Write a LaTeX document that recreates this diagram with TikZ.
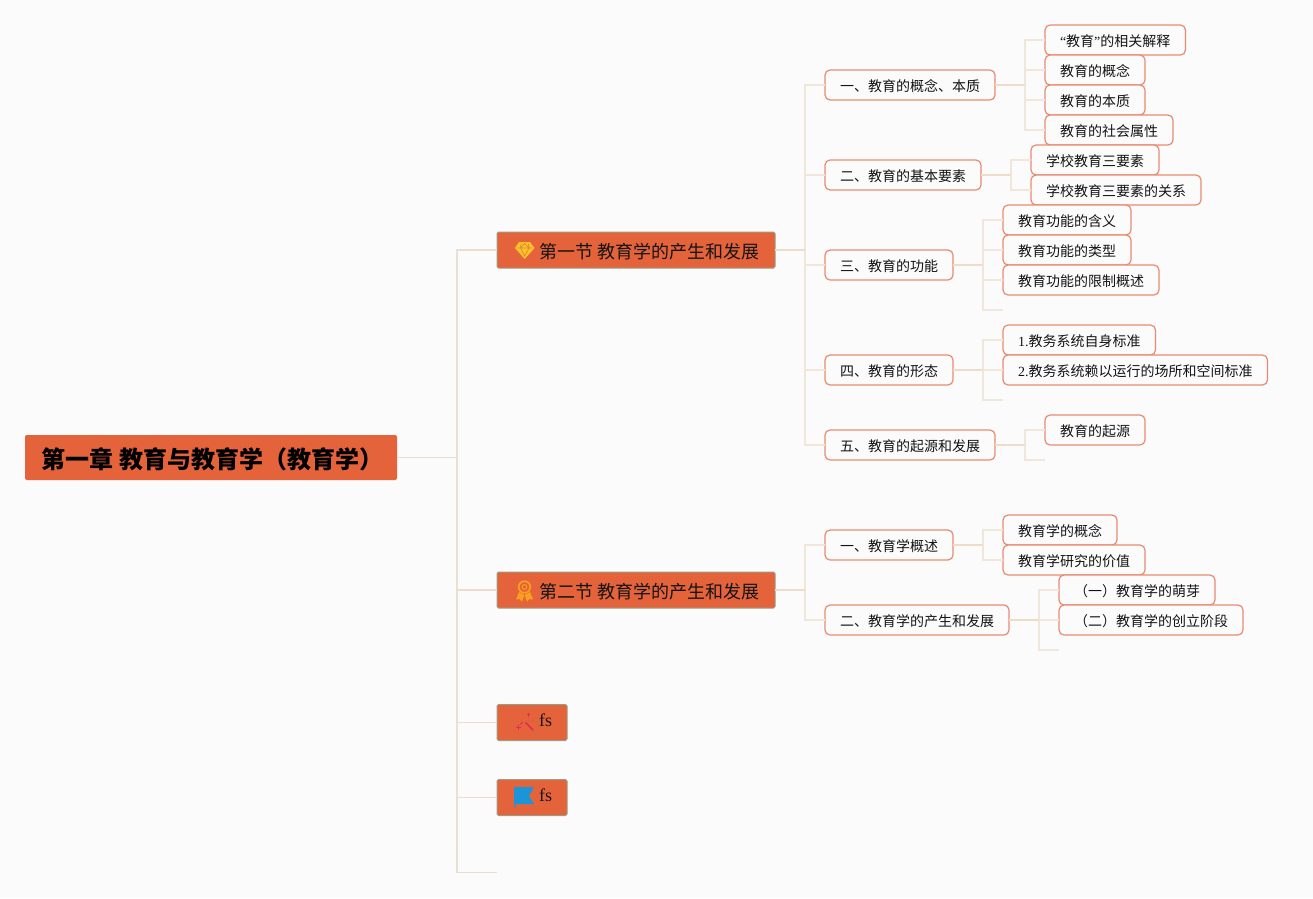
\documentclass[tikz,border=0pt]{standalone}
\usepackage{fontspec}
\setmainfont{Liberation Serif}
\newfontfamily\cjk{Noto Sans CJK SC}
\newfontfamily\lat{Liberation Serif}
\definecolor{bgc}{HTML}{FBFBFB}
\definecolor{rootc}{HTML}{E4633B}
\definecolor{secedge}{HTML}{9C9C84}
\definecolor{leafedge}{HTML}{E98A70}
\definecolor{linkc}{HTML}{F0E7DA}
\definecolor{stemc}{HTML}{EEDCC8}
\definecolor{linkroot}{HTML}{E8E0D0}
\definecolor{inkc}{HTML}{141414}
\definecolor{gemc}{HTML}{FBC42A}
\definecolor{medalc}{HTML}{F9A01E}
\definecolor{wandc}{HTML}{E2295A}
\definecolor{flagc}{HTML}{1A96D8}
\tikzset{
  x=1pt,y=-1pt,
  rootbox/.style={rectangle,rounded corners=2pt,fill=rootc,text=black,inner xsep=16pt,inner ysep=0pt,minimum height=45pt,outer sep=0pt,anchor=west,text height=21.5pt,text depth=.3pt,font=\fontsize{24}{28}\cjk\bfseries},
  secbox/.style={rectangle,rounded corners=1.5pt,fill=rootc,draw=secedge,line width=1pt,text=inkc,inner xsep=15pt,inner ysep=0pt,minimum height=36pt,outer sep=0pt,anchor=west,text height=18pt,text depth=.3pt,font=\fontsize{18}{22}\cjk},
  leafbox/.style={rectangle,rounded corners=5pt,fill=bgc,draw=leafedge,line width=1.2pt,text=inkc,inner xsep=15pt,inner ysep=0pt,minimum height=30pt,outer sep=0pt,anchor=west,text height=13pt,text depth=.4pt,font=\fontsize{14}{17}\cjk},
  link/.style={draw=linkc,line width=1.5pt},
  stem/.style={draw=stemc,line width=1.5pt},
  toplink/.style={draw=linkroot,line width=1.4pt},
  topstem/.style={draw=stemc,line width=1pt},
}
\newcommand{\secpad}{\hspace*{27pt}}
\begin{document}
\begin{tikzpicture}
\useasboundingbox[fill=bgc] (0,0) rectangle (1313,898);
% free ends
\coordinate (rootend) at (497,872.5);
\coordinate (cend) at (1003,310);
\coordinate (dend) at (1003,400);
\coordinate (eend) at (1045,460);
\coordinate (gend) at (1059,650);
% root and sections
\node[rootbox] (root) at (25,457.5) {第一章\hspace{6pt}教育与教育学（教育学）\hspace*{-2pt}};
\node[secbox] (s1) at (497,250) {\secpad 第一节\hspace{5pt}教育学的产生和发展};
\node[secbox] (s2) at (497,590) {\secpad 第二节\hspace{5pt}教育学的产生和发展};
\node[secbox] (s3) at (497,722.5) {\secpad\raisebox{5pt}{\lat fs}};
\node[secbox] (s4) at (497,797.5) {\secpad\raisebox{5pt}{\lat fs}};
% second level
\node[leafbox] (a) at (825,85) {一、教育的概念、本质};
\node[leafbox] (b) at (825,175) {二、教育的基本要素};
\node[leafbox] (c) at (825,265) {三、教育的功能};
\node[leafbox] (d) at (825,370) {四、教育的形态};
\node[leafbox] (e) at (825,445) {五、教育的起源和发展};
\node[leafbox] (f) at (825,545) {一、教育学概述};
\node[leafbox] (g) at (825,620) {二、教育学的产生和发展};
% leaves
\node[leafbox] (a1) at (1045,40) {{\lat “}教育{\lat ”}的相关解释};
\node[leafbox] (a2) at (1045,70) {教育的概念};
\node[leafbox] (a3) at (1045,100) {教育的本质};
\node[leafbox] (a4) at (1045,130) {教育的社会属性};
\node[leafbox] (b1) at (1031,160) {学校教育三要素};
\node[leafbox] (b2) at (1031,190) {学校教育三要素的关系};
\node[leafbox] (c1) at (1003,220) {教育功能的含义};
\node[leafbox] (c2) at (1003,250) {教育功能的类型};
\node[leafbox] (c3) at (1003,280) {教育功能的限制概述};
\node[leafbox] (d1) at (1003,340) {{\lat 1.}教务系统自身标准};
\node[leafbox] (d2) at (1003,370) {{\lat 2.}教务系统赖以运行的场所和空间标准};
\node[leafbox] (e1) at (1045,430) {教育的起源};
\node[leafbox] (f1) at (1003,530) {教育学的概念};
\node[leafbox] (f2) at (1003,560) {教育学研究的价值};
\node[leafbox] (g1) at (1059,590) {（一）教育学的萌芽};
\node[leafbox] (g2) at (1059,620) {（二）教育学的创立阶段};
% connectors
\coordinate (rt) at (457,457.5);
\foreach \t in {s1,s2,s3,s4} \draw[toplink] (rt) |- (\t.west);
\draw[toplink] (rt) |- (rootend);
\draw[topstem] (root.east) -- (rt);
\draw[topstem] (457,250) -- (s1.west) (457,590) -- (s2.west) (457,722.5) -- (s3.west) (457,797.5) -- (s4.west) (457,872.5) -- (rootend);
\coordinate (t1) at (805,250);
\foreach \t in {a,b,c,d,e} \draw[link] (t1) |- (\t.west);
\draw[stem] (s1.east) -- (t1);
\coordinate (t2) at (805,590);
\foreach \t in {f,g} \draw[link] (t2) |- (\t.west);
\draw[stem] (s2.east) -- (t2);
\coordinate (ta) at (1025,85);
\foreach \t in {a1,a2,a3,a4} \draw[link] (ta) |- (\t.west);
\draw[stem] (a.east) -- (ta);
\coordinate (tb) at (1011,175);
\foreach \t in {b1,b2} \draw[link] (tb) |- (\t.west);
\draw[stem] (b.east) -- (tb);
\coordinate (tc) at (983,265);
\foreach \t in {c1,c2,c3} \draw[link] (tc) |- (\t.west);
\draw[link] (tc) |- (cend);
\draw[stem] (c.east) -- (tc);
\coordinate (td) at (983,370);
\foreach \t in {d1,d2} \draw[link] (td) |- (\t.west);
\draw[link] (td) |- (dend);
\draw[stem] (d.east) -- (td);
\coordinate (te) at (1025,445);
\draw[link] (te) |- (e1.west);
\draw[link] (te) |- (eend);
\draw[stem] (e.east) -- (te);
\coordinate (tf) at (983,545);
\foreach \t in {f1,f2} \draw[link] (tf) |- (\t.west);
\draw[stem] (f.east) -- (tf);
\coordinate (tg) at (1039,620);
\foreach \t in {g1,g2} \draw[link] (tg) |- (\t.west);
\draw[link] (tg) |- (gend);
\draw[stem] (g.east) -- (tg);
% icon: diamond
\fill[gemc] (519,242) -- (530,242) -- (534.5,248) -- (524.7,259) -- (515,248) -- cycle;
\draw[rootc!70!gemc,line width=.7pt] (517,248) -- (532.5,248) (521,244) -- (520.5,248) -- (524.7,256) -- (529,248) -- (528.5,244) (520.5,248) -- (524.7,243.5) -- (529,248);
% icon: medal
\draw[medalc,line width=1.7pt] (524.5,587) circle (5.8pt);
\draw[medalc,line width=1pt] (524.5,587) circle (2.4pt);
\fill[medalc] (519,592) -- (516,599.5) -- (519.5,599) -- (522,601.5) -- (524.5,595) -- cycle;
\fill[medalc] (530,592) -- (533,599.5) -- (529.5,599) -- (527,601.5) -- (524.5,595) -- cycle;
% icon: wand
\draw[wandc,line width=1.7pt] (525.5,722.5) -- (533,730);
\draw[wandc,line width=1.5pt] (516,727.5) -- (521,727.5) (518.5,725) -- (518.5,730);
\draw[wandc,line width=1.2pt] (526.5,714.5) -- (530,714.5) (528.2,712.8) -- (528.2,716.5);
\draw[wandc,line width=.9pt] (520,724.5) -- (523,722) (531.5,721) -- (532.5,721);
% icon: flag
\fill[flagc] (514,787) -- (534,787) -- (529,796) -- (534,804) -- (514,804) -- cycle;
\fill[flagc!60!rootc] (514,804) rectangle (516,808);
\end{tikzpicture}
\end{document}
